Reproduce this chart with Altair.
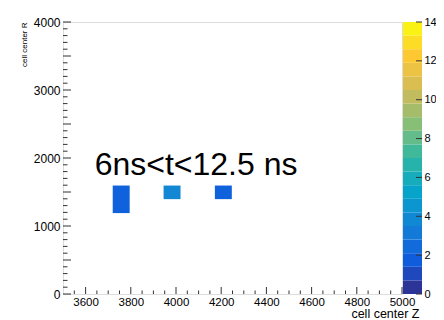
import altair as alt
import pandas as pd

# ---- data ----
z_lo = [3720, 3945, 4172]
z_hi = [3795, 4020, 4247]
r_lo = [1190, 1395, 1395]
r_hi = [1595, 1595, 1595]
counts = [2.0, 3.8, 2.0]

x_major = [3600, 3800, 4000, 4200, 4400, 4600, 4800, 5000]
x_minor = [v for v in range(3550, 5000, 50) if v not in x_major]
y_major = [0, 500, 1000, 1500, 2000, 2500, 3000, 3500, 4000]
y_minor = [v for v in range(100, 4000, 100) if v not in y_major]
z_ticks = [0, 2, 4, 6, 8, 10, 12, 14]
cbar_edges = [round(i * 0.7, 2) for i in range(21)]

label_text = ["6ns<t<12.5 ns"]
label_z = [3640]
label_r = [1750]

# ROOT kBird palette stops
palette_stops = [0, 1.75, 3.5, 5.25, 7, 8.75, 10.5, 12.25, 14]
palette_cols = ["#352a87", "#0f5cdd", "#1481d6", "#06a4ca", "#2eb7a4",
                "#87bf77", "#d1bb59", "#fec832", "#f9fb0e"]

FONT = "Liberation Sans"
W, H = 339, 272

cells = pd.DataFrame({"z0": z_lo, "z1": z_hi, "r0": r_lo, "r1": r_hi, "v": counts})
ann = pd.DataFrame({"t": label_text, "z": label_z, "r": label_r})
xmaj = pd.DataFrame({"z": x_major})
xmin = pd.DataFrame({"z": x_minor})
ymaj = pd.DataFrame({"r": y_major})
ymin = pd.DataFrame({"r": y_minor})
cbar = pd.DataFrame({"lo": cbar_edges[:-1], "hi": cbar_edges[1:]})
cbar["v"] = (cbar["lo"] + cbar["hi"]) / 2
cticks = pd.DataFrame({"lo": z_ticks})

color_scale = alt.Scale(domain=palette_stops, range=palette_cols, interpolate="rgb")
xs = alt.Scale(domain=[3500, 5000], nice=False, zero=False)
ys = alt.Scale(domain=[0, 4000], nice=False, zero=False)

x_axis = alt.Axis(values=x_major, ticks=False, tickSize=0, domain=False, grid=False,
                  labelPadding=2, labelFlush=False, labelOverlap=False, format="d",
                  labelFontSize=11.5,
                  title="cell center Z", titleX=356, titleY=23.5, titleAlign="right",
                  titleBaseline="alphabetic", titleFontSize=12.5, titleFontWeight="normal")
y_axis = alt.Axis(values=y_major, ticks=False, tickSize=0, domain=False, grid=False,
                  labelPadding=3, labelFlush=False, labelOverlap=False, format="d",
                  labelFontSize=12,
                  title="cell center R", titleX=-37, titleY=0, titleAngle=-90,
                  titleAlign="right", titleBaseline="alphabetic", titleFontSize=8,
                  titleFontWeight="normal")

bars = alt.Chart(cells).mark_rect().encode(
    x=alt.X("z0:Q", scale=xs, axis=x_axis),
    x2="z1:Q",
    y=alt.Y("r0:Q", scale=ys, axis=y_axis),
    y2="r1:Q",
    color=alt.Color("v:Q", scale=color_scale, legend=None),
)

text = alt.Chart(ann).mark_text(align="left", baseline="alphabetic", fontSize=32,
                                font=FONT, color="black").encode(
    x=alt.X("z:Q", scale=xs), y=alt.Y("r:Q", scale=ys), text="t:N")

tick_col = "#333333"
xmaj_r = alt.Chart(xmaj).mark_rule(color=tick_col).encode(
    x=alt.X("z:Q", scale=xs), y=alt.value(H), y2=alt.value(H - 7))
xmin_r = alt.Chart(xmin).mark_rule(color=tick_col).encode(
    x=alt.X("z:Q", scale=xs), y=alt.value(H), y2=alt.value(H - 3.5))
ymaj_r = alt.Chart(ymaj).mark_rule(color=tick_col).encode(
    y=alt.Y("r:Q", scale=ys), x=alt.value(0), x2=alt.value(8))
ymin_r = alt.Chart(ymin).mark_rule(color=tick_col).encode(
    y=alt.Y("r:Q", scale=ys), x=alt.value(0), x2=alt.value(4.5))

main = alt.layer(bars, xmaj_r, xmin_r, ymaj_r, ymin_r, text)

cs = alt.Scale(domain=[0, 14], nice=False, zero=False)
c_axis = alt.Axis(orient="right", offset=0, values=z_ticks, ticks=False, tickSize=0,
                  domain=False, grid=False, labelPadding=22, labelFlush=False,
                  labelOverlap=False, labelFontSize=11, title=None, zindex=1)
cbar_rects = alt.Chart(cbar).mark_rect().encode(
    y=alt.Y("lo:Q", scale=cs, axis=c_axis), y2="hi:Q",
    x=alt.value(W + 1), x2=alt.value(W + 20),
    color=alt.Color("v:Q", scale=color_scale, legend=None))
cbar_ticks = alt.Chart(cticks).mark_rule(color=tick_col).encode(
    y=alt.Y("lo:Q", scale=cs, axis=c_axis), x=alt.value(W + 14), x2=alt.value(W + 20))
colorbar = alt.layer(cbar_rects, cbar_ticks)

chart = alt.layer(main, colorbar).resolve_scale(y="independent").properties(
    width=W, height=H,
    autosize=alt.AutoSizeParams(type="none"),
    padding={"left": 55, "top": 14, "right": 34, "bottom": 30},
).configure_view(stroke="#222222", strokeWidth=1).configure_axis(
    labelFont=FONT, titleFont=FONT, labelColor="#111111", titleColor="#111111"
).configure(background="white")

chart.save("out.html", embed_options={"renderer": "svg", "actions": False})
